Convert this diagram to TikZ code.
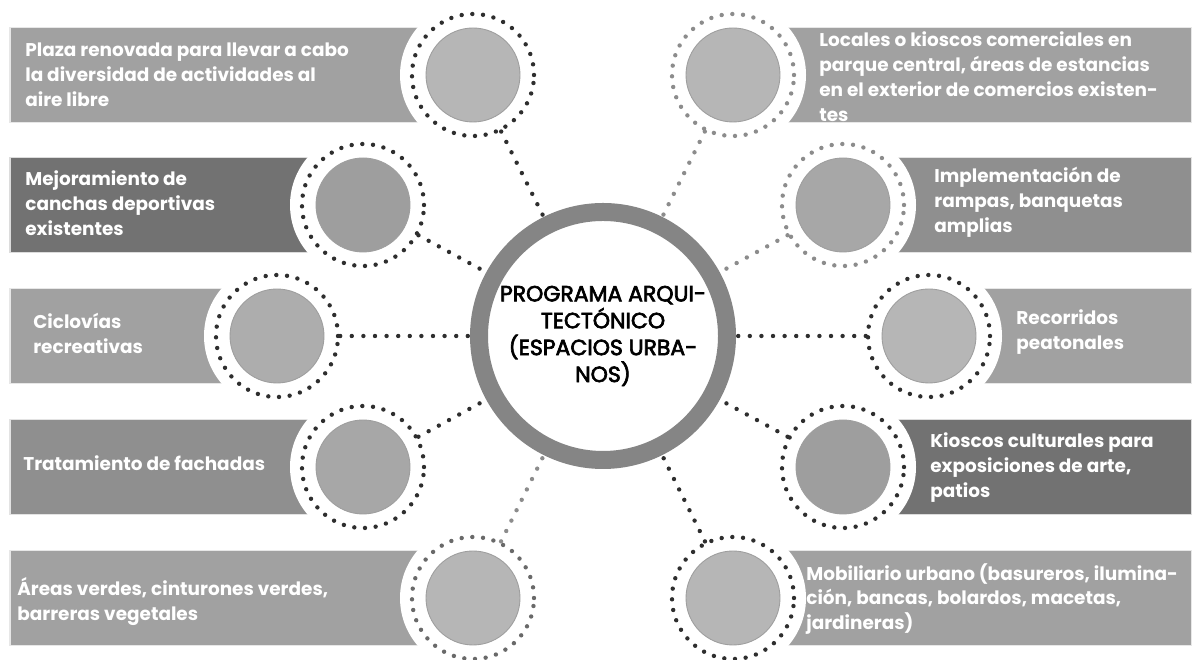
\documentclass[tikz,border=0pt]{standalone}
\usepackage{fontspec}
\setmainfont{Poppins}
\newfontfamily\progfont{Poppins}[FakeBold=3]
\usepackage{tikz}
\usetikzlibrary{calc}
\definecolor{ringc}{HTML}{858585}
\definecolor{dotdk}{HTML}{2E2E2E}
\definecolor{dotlt}{HTML}{8C8C8C}
\definecolor{barlt}{HTML}{A1A1A1}
\definecolor{barmd}{HTML}{8F8F8F}
\definecolor{bardk}{HTML}{727272}
\definecolor{disclt}{HTML}{B6B6B6}
\definecolor{discmd}{HTML}{A7A7A7}
\definecolor{discdk}{HTML}{9E9E9E}

\begin{document}
\begin{tikzpicture}[every node/.style={inner sep=0pt},
  band/.style={fill=#1,draw=white!75!#1,line width=0.6pt},
  ring/.style={circle,draw=#1,minimum size=2.44cm,line width=2.5pt,line cap=round,dash pattern=on 0pt off 6.1pt},
  disc/.style={circle,fill=#1,draw=black!38,line width=0.5pt,minimum size=1.88cm},
  txt/.style={anchor=west,align=left,text=white,font=\bfseries\fontsize{10.5}{14.2}\selectfont},
  e/.style={draw=#1,line width=2.5pt,line cap=round,dash pattern=on 0pt off 6.6pt}]
  \useasboundingbox (0,0) rectangle (23.84,13.2);
  \fill[band=barlt] (0.2,10.75) rectangle (9.46,12.65);
  \fill[band=bardk] (0.2,8.15) rectangle (7.26,10.05);
  \fill[band=barlt] (0.2,5.53) rectangle (5.54,7.43);
  \fill[band=barmd] (0.2,2.91) rectangle (7.26,4.81);
  \fill[band=barlt] (0.2,0.29) rectangle (9.46,2.19);
  \fill[band=barlt] (14.66,10.75) rectangle (23.84,12.65);
  \fill[band=barmd] (16.86,8.15) rectangle (23.84,10.05);
  \fill[band=barlt] (18.58,5.53) rectangle (23.84,7.43);
  \fill[band=bardk] (16.86,2.91) rectangle (23.84,4.81);
  \fill[band=barlt] (14.66,0.29) rectangle (23.84,2.19);
  \foreach \x/\y in {9.46/11.7,7.26/9.1,5.54/6.48,7.26/3.86,9.46/1.24,
    14.66/11.7,16.86/9.1,18.58/6.48,16.86/3.86,14.66/1.24}
    \fill[white] (\x,\y) circle (1.46);
  \node[ring=dotdk] (l1) at (9.46,11.7) {};
  \node[ring=dotdk] (l2) at (7.26,9.1) {};
  \node[ring=dotdk] (l3) at (5.54,6.48) {};
  \node[ring=dotdk] (l4) at (7.26,3.86) {};
  \node[ring=dotlt!75!black] (l5) at (9.46,1.24) {};
  \node[ring=dotlt] (r1) at (14.66,11.7) {};
  \node[ring=dotlt] (r2) at (16.86,9.1) {};
  \node[ring=dotdk] (r3) at (18.58,6.48) {};
  \node[ring=dotdk] (r4) at (16.86,3.86) {};
  \node[ring=dotdk] (r5) at (14.66,1.24) {};
  \node[disc=disclt] at (l1) {};
  \node[disc=discdk] at (l2) {};
  \node[disc=disclt!95!black] at (l3) {};
  \node[disc=discmd] at (l4) {};
  \node[disc=disclt] at (l5) {};
  \node[disc=disclt] at (r1) {};
  \node[disc=discmd] at (r2) {};
  \node[disc=disclt] at (r3) {};
  \node[disc=discdk] at (r4) {};
  \node[disc=disclt] at (r5) {};
  \node[circle,draw=ringc,fill=white,line width=0.36cm,minimum size=4.96cm,align=center,
    font=\progfont\fontsize{12.5}{15.3}\selectfont] (prog) at (12.06,6.48)
    {PROGRAMA ARQUI-\\TECTÓNICO\\(ESPACIOS URBA-\\NOS)};
  \draw[e=dotdk] (l1) -- (prog); \draw[e=dotdk] (l2) -- (prog);
  \draw[e=dotdk] (l3) -- (prog); \draw[e=dotdk] (l4) -- (prog);
  \draw[e=dotlt] (l5) -- (prog);
  \draw[e=dotlt] (r1) -- (prog); \draw[e=dotlt] (r2) -- (prog);
  \draw[e=dotdk] (r3) -- (prog); \draw[e=dotdk] (r4) -- (prog);
  \draw[e=dotdk] (r5) -- (prog);
  \node[txt] (tl1) at (0.5,11.7) {Plaza renovada para llevar a cabo\\la diversidad de actividades al\\aire libre};
  \node[txt] (tl2) at (0.5,9.14) {Mejoramiento de\\canchas deportivas\\existentes};
  \node[txt] (tl3) at (0.66,6.54) {Ciclovías\\recreativas};
  \node[txt] (tl4) at (0.46,3.94) {Tratamiento de fachadas};
  \node[txt] (tl5) at (0.34,1.16) {Áreas verdes, cinturones verdes,\\barreras vegetales};
  \node[txt] (tr1) at (16.38,11.66) {Locales o kioscos comerciales en\\parque central, áreas de estancias\\en el exterior de comercios existen-\\tes};
  \node[txt] (tr2) at (18.68,9.16) {Implementación de\\rampas, banquetas\\amplias};
  \node[txt] (tr3) at (20.32,6.56) {Recorridos\\peatonales};
  \node[txt] (tr4) at (18.6,3.84) {Kioscos culturales para\\exposiciones de arte,\\patios};
  \node[txt] (tr5) at (16.12,1.22) {Mobiliario urbano (basureros, ilumina-\\ción, bancas, bolardos, macetas,\\jardineras)};
\end{tikzpicture}
\end{document}
